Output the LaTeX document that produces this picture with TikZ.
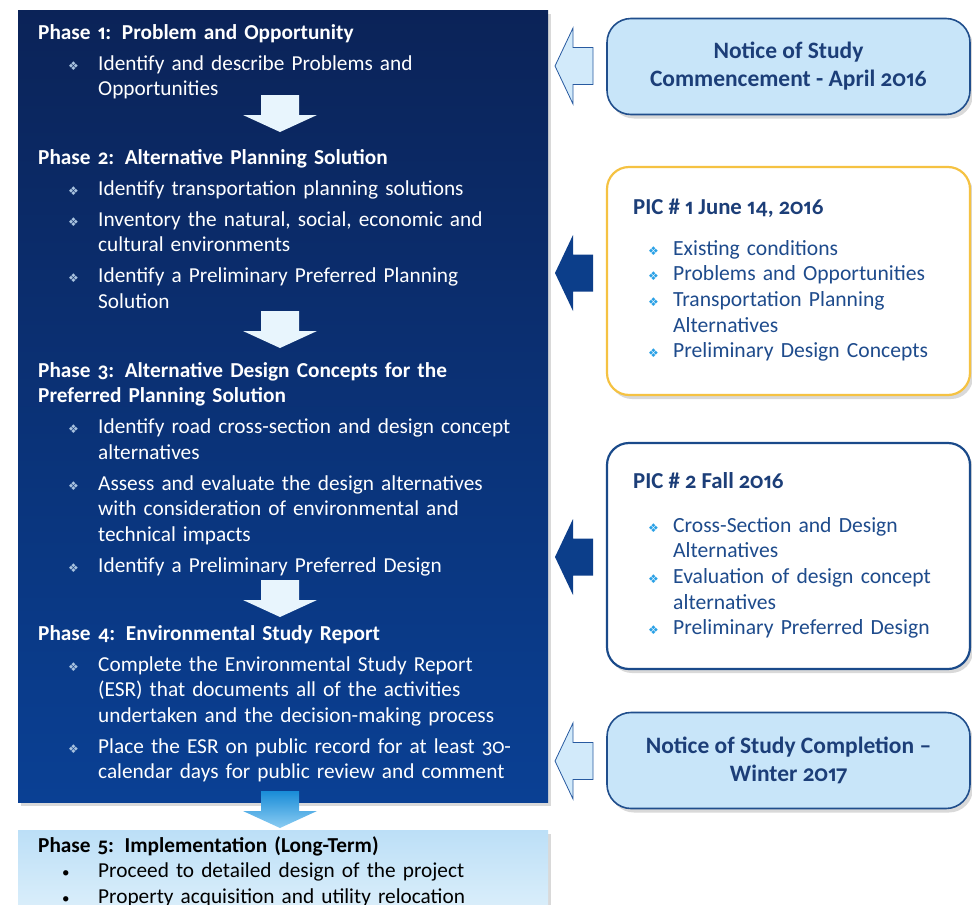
\documentclass[tikz,border=0pt]{standalone}
\usepackage{fontspec}
\setmainfont{Carlito}[Numbers={OldStyle,Proportional}]
\newfontfamily\dejavu{DejaVu Sans}
\usetikzlibrary{shadows}
\definecolor{navytop}{RGB}{11,35,88}
\definecolor{navybot}{RGB}{10,64,148}
\definecolor{flowwhite}{RGB}{232,245,253}
\definecolor{bulpale}{RGB}{170,196,224}
\definecolor{notefill}{RGB}{200,229,249}
\definecolor{noteline}{RGB}{32,78,140}
\definecolor{notetext}{RGB}{28,62,120}
\definecolor{hollowfill}{RGB}{210,234,250}
\definecolor{hollowline}{RGB}{40,90,160}
\definecolor{solidblue}{RGB}{12,62,138}
\definecolor{picgold}{RGB}{245,194,66}
\definecolor{picblue}{RGB}{26,74,138}
\definecolor{pictext}{RGB}{30,75,140}
\definecolor{picbul}{RGB}{40,160,230}
\definecolor{ptop}{RGB}{188,223,247}
\definecolor{pbot}{RGB}{222,240,251}
\definecolor{flowtop}{RGB}{25,140,215}
\definecolor{flowbot}{RGB}{140,205,243}
% list items: bullet box, then hanging text
\newcommand{\pitem}[1]{\hangindent=60pt\hangafter=1\noindent\hspace*{30pt}%
  \makebox[30pt][l]{\textcolor{bulpale}{\dejavu\fontsize{12}{12}\selectfont ❖}}#1\par}
\newcommand{\citem}[1]{\hangindent=25pt\hangafter=1\noindent%
  \makebox[25pt][l]{\textcolor{picbul}{\dejavu\fontsize{12}{12}\selectfont ❖}}#1\par}
\newcommand{\ditem}[1]{\noindent\hspace*{24pt}\makebox[36pt][l]{\fontsize{15}{15}\selectfont •}#1\par}

\tikzset{
  downarr/.pic={\path[pic actions] (-19,0) -- (19,0) -- (19,20) -- (37,20) -- (0,37)
    -- (-37,20) -- (-19,20) -- cycle;},
  leftarr/.pic={\path[pic actions] (0,0) -- (18,-38) -- (18,-18.5) -- (38,-18.5)
    -- (38,18.5) -- (18,18.5) -- (18,38) -- cycle;},
}

\begin{document}
\begin{tikzpicture}[x=1pt,y=-1pt,
  shad/.style={drop shadow={shadow xshift=3pt,shadow yshift=-4pt,opacity=.3}},
  phase/.style={anchor=base west, inner sep=0pt, text width=510pt, align=left,
    text=white, font=\fontsize{21.3}{25.5}\selectfont,
    execute at begin node={\setlength{\parskip}{5.5pt}}},
  note/.style={draw=noteline, line width=1.6pt, fill=notefill, rounded corners=24pt,
    minimum width=363pt, minimum height=96pt, align=center, text=notetext,
    font=\bfseries\fontsize{23.5}{28}\selectfont, shad},
  picbox/.style={line width=2.2pt, fill=white, rounded corners=22pt,
    minimum width=363pt, inner sep=0pt, shad},
  pictitle/.style={anchor=base west, inner sep=0pt, text=notetext,
    font=\bfseries\fontsize{22.8}{25}\selectfont},
  piclist/.style={anchor=base west, inner sep=0pt, text width=320pt, align=left,
    text=pictext, font=\fontsize{21.6}{25.7}\selectfont},
]
\useasboundingbox (0,0) rectangle (972,905);

% the study process, phases 1-4 on one panel
\node[shad, top color=navytop, bottom color=navybot, minimum width=530pt,
  minimum height=792pt, inner sep=0pt] (main) at (283,406) {};
\node[shad, top color=ptop, bottom color=pbot, minimum width=530pt,
  minimum height=88pt, inner sep=0pt] (impl) at (283,874) {};

\node[phase] (ph1) at (38,39) {{\bfseries Phase 1: Problem and Opportunity}\par
  \pitem{Identify and describe Problems and\newline Opportunities}};
\node[phase] (ph2) at (38,164) {{\bfseries Phase 2: Alternative Planning Solution}\par
  \pitem{Identify transportation planning solutions}
  \pitem{Inventory the natural, social, economic and\newline cultural environments}
  \pitem{Identify a Preliminary Preferred Planning\newline Solution}};
\node[phase] (ph3) at (38,377) {{\bfseries Phase 3: Alternative Design Concepts for the\newline Preferred Planning Solution}\par
  \pitem{Identify road cross-section and design concept\newline alternatives}
  \pitem{Assess and evaluate the design alternatives\newline with consideration of environmental and\newline technical impacts}
  \pitem{Identify a Preliminary Preferred Design}};
\node[phase] (ph4) at (38,640) {{\bfseries Phase 4: Environmental Study Report}\par
  \pitem{Complete the Environmental Study Report\newline (ESR) that documents all of the activities\newline undertaken and the decision-making process}
  \pitem{Place the ESR on public record for at least 30-\newline calendar days for public review and comment}};
\node[phase, text=black, execute at begin node={\setlength{\parskip}{0pt}}] (ph5)
  at (38,852) {{\bfseries Phase 5: Implementation (Long-Term)}\par
  \ditem{Proceed to detailed design of the project}
  \ditem{Property acquisition and utility relocation}};

% flow arrows between phases
\pic[fill=flowwhite] (f1) at (280,95) {downarr};
\pic[fill=flowwhite] (f2) at (280,311) {downarr};
\pic[fill=flowwhite] (f3) at (280,580) {downarr};
\pic[top color=flowtop, bottom color=flowbot] (f4) at (280,791) {downarr};

% notices and PICs
\node[note] (start) at (788.5,66.5) {Notice of Study\\Commencement - April 2016};
\node[note] (done) at (788.5,760.5) {Notice of Study Completion –\\Winter 2017};
\node[picbox, draw=picgold, minimum height=228pt] (pic1) at (788.5,281) {};
\node[picbox, draw=picblue, minimum height=226pt] (pic2) at (788.5,556) {};

\node[pictitle] (t1) at (633,214) {PIC \# 1 June 14, 2016};
\node[piclist] (l1) at (648,255) {\citem{Existing conditions}
  \citem{Problems and Opportunities}
  \citem{Transportation Planning\newline Alternatives}
  \citem{Preliminary Design Concepts}};
\node[pictitle] (t2) at (633,488) {PIC \# 2 Fall 2016};
\node[piclist] (l2) at (648,532) {\citem{Cross-Section and Design\newline Alternatives}
  \citem{Evaluation of design concept\newline alternatives}
  \citem{Preliminary Preferred Design}};

\pic[fill=hollowfill, draw=hollowline, thick] (a1) at (555,66) {leftarr};
\pic[fill=solidblue] (a2) at (555,273) {leftarr};
\pic[fill=solidblue] (a3) at (555,557) {leftarr};
\pic[fill=hollowfill, draw=hollowline, thick] (a4) at (555,761) {leftarr};
\end{tikzpicture}
\end{document}
